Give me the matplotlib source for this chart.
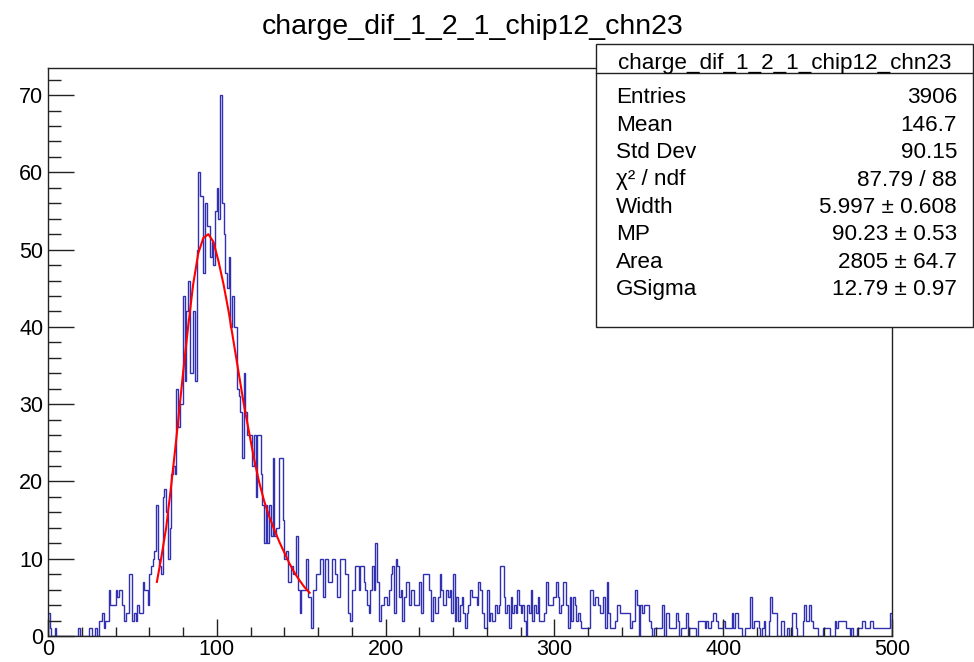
import numpy as np
import matplotlib
matplotlib.use('Agg')
import matplotlib.pyplot as plt
from matplotlib.ticker import MultipleLocator
from matplotlib.patches import Rectangle
from matplotlib.lines import Line2D

plt.rcParams['font.family'] = ['Liberation Sans', 'DejaVu Sans']

title = 'charge_dif_1_2_1_chip12_chn23'

# bin contents, 500 bins of width 1 from 0 to 500
counts = [
    3, 1, 0, 0, 1, 0, 0, 0, 0, 0,
    0, 0, 0, 0, 0, 0, 0, 0, 1, 0,
    0, 0, 0, 0, 1, 1, 0, 0, 1, 0,
    2, 2, 3, 1, 2, 2, 6, 4, 4, 4,
    6, 5, 6, 6, 4, 2, 3, 3, 8, 8,
    2, 3, 2, 4, 3, 3, 7, 6, 6, 4,
    8, 9, 10, 11, 17, 10, 9, 8, 18, 19,
    16, 10, 14, 21, 22, 21, 32, 27, 30, 30,
    44, 33, 42, 46, 34, 34, 42, 33, 50, 60,
    57, 57, 47, 56, 53, 53, 49, 51, 48, 55,
    58, 54, 70, 56, 52, 47, 45, 49, 40, 44,
    40, 40, 32, 31, 29, 23, 34, 29, 26, 26,
    26, 22, 26, 18, 26, 26, 21, 17, 12, 17,
    12, 17, 13, 23, 13, 14, 14, 23, 23, 15,
    10, 11, 7, 7, 9, 8, 8, 13, 6, 3,
    6, 6, 6, 10, 5, 5, 1, 6, 6, 8,
    8, 10, 10, 5, 10, 10, 7, 7, 10, 10,
    8, 5, 5, 10, 10, 10, 8, 8, 3, 2,
    6, 6, 9, 9, 6, 9, 9, 7, 6, 4,
    3, 6, 9, 6, 12, 7, 2, 4, 4, 5,
    5, 4, 6, 8, 9, 3, 10, 9, 5, 6,
    2, 5, 7, 7, 4, 6, 6, 4, 4, 4,
    7, 3, 8, 8, 8, 8, 6, 2, 5, 3,
    3, 5, 8, 6, 4, 4, 6, 5, 6, 3,
    8, 2, 5, 2, 4, 5, 3, 1, 3, 4,
    6, 5, 5, 5, 4, 7, 6, 3, 1, 1,
    6, 2, 3, 2, 2, 4, 3, 4, 9, 9,
    5, 3, 4, 1, 5, 3, 4, 3, 6, 4,
    3, 4, 2, 0, 4, 3, 6, 2, 4, 3,
    5, 2, 2, 2, 3, 7, 4, 4, 4, 5,
    5, 7, 5, 3, 4, 7, 7, 4, 1, 5,
    2, 5, 4, 2, 3, 2, 1, 1, 1, 1,
    1, 6, 6, 4, 5, 5, 4, 3, 3, 5,
    1, 7, 3, 1, 1, 1, 2, 4, 4, 3,
    3, 3, 3, 3, 3, 1, 2, 2, 6, 4,
    0, 4, 3, 4, 4, 4, 2, 1, 0, 1,
    1, 1, 1, 1, 4, 0, 3, 3, 1, 1,
    1, 1, 3, 2, 0, 1, 1, 1, 3, 0,
    1, 1, 1, 1, 0, 2, 2, 2, 2, 1,
    2, 1, 1, 2, 3, 3, 2, 1, 1, 1,
    2, 1, 1, 1, 1, 3, 1, 3, 3, 1,
    1, 0, 0, 1, 1, 1, 5, 1, 2, 2,
    2, 1, 0, 1, 2, 0, 0, 2, 5, 3,
    3, 3, 0, 0, 2, 2, 0, 0, 1, 0,
    0, 3, 3, 1, 0, 0, 0, 2, 4, 2,
    2, 4, 2, 1, 1, 1, 0, 0, 0, 1,
    1, 1, 1, 0, 0, 0, 2, 1, 2, 2,
    2, 2, 2, 1, 1, 0, 1, 0, 0, 1,
    1, 1, 2, 2, 1, 1, 1, 2, 2, 1,
    1, 1, 1, 1, 1, 1, 1, 1, 1, 3,
]
edges = np.arange(0, 501, 1)

# fitted curve, points
fit_x = [64.5, 67, 70, 73, 76, 80, 83, 86, 89, 92, 95, 98, 101, 104, 107, 110,
         113, 116, 119, 122, 125, 128, 131, 134, 137, 140, 143, 146, 149, 152, 155]
fit_y = [7, 10, 14, 19.5, 25.5, 34, 40, 45.5, 49.5, 51.5, 52, 51, 48.5, 45.5, 42, 38,
         34, 30, 26.5, 23, 20, 17.5, 15.5, 13.8, 12.2, 10.8, 9.4, 8.2, 7.2, 6.3, 5.6]

stats_names = ['Entries', 'Mean', 'Std Dev', 'χ² / ndf', 'Width', 'MP', 'Area', 'GSigma']
stats_values = ['3906', '146.7', '90.15', '87.79 / 88', '5.997 ± 0.608',
                '90.23 ± 0.53', '2805 ± 64.7', '12.79 ± 0.97']

W, H = 974, 662


def fx(x):
    return x / W


def fy(y):
    return 1 - y / H


fig = plt.figure(figsize=(W / 100, H / 100), dpi=100)
ax = fig.add_axes([fx(48), fy(636), fx(892) - fx(48), fy(68) - fy(636)])

ax.stairs(counts, edges, color='#3030b0', lw=1.0, baseline=0)
ax.plot(fit_x, fit_y, color='red', lw=1.5)

ax.set_xlim(0, 500)
ax.set_ylim(0, 73.5)
ax.xaxis.set_major_locator(MultipleLocator(100))
ax.xaxis.set_minor_locator(MultipleLocator(20))
ax.yaxis.set_major_locator(MultipleLocator(10))
ax.yaxis.set_minor_locator(MultipleLocator(2))
ax.tick_params(axis='both', which='both', direction='in', top=False, right=False,
               color='#222222', width=1.0, labelsize=15.5)
ax.tick_params(axis='x', which='major', length=12.2, pad=2.2)
ax.tick_params(axis='x', which='minor', length=6.5)
ax.tick_params(axis='y', which='major', length=18.7, pad=3.3)
ax.tick_params(axis='y', which='minor', length=9.4)
for s in ax.spines.values():
    s.set_color('#222222')
    s.set_linewidth(1.0)

fig.text(fx(473), fy(33.5), title, ha='center', va='baseline', fontsize=20.5)

# stats box
fig.add_artist(Rectangle((fx(596), fy(327)), fx(973) - fx(596), fy(44) - fy(327),
                         transform=fig.transFigure, facecolor='white',
                         edgecolor='#222222', lw=1.0, zorder=5))
fig.add_artist(Line2D([fx(596), fx(973)], [fy(73), fy(73)], transform=fig.transFigure,
                      color='#222222', lw=1.0, zorder=6))
fig.text(fx(785), fy(68.5), title, ha='center', va='baseline', fontsize=16.2, zorder=7)
for i, (name, val) in enumerate(zip(stats_names, stats_values)):
    yb = 103.3 + i * 27.4
    fig.text(fx(616), fy(yb), name, ha='left', va='baseline', fontsize=16.2, zorder=7)
    fig.text(fx(957), fy(yb), val, ha='right', va='baseline', fontsize=16.2, zorder=7)

fig.savefig('out.png', dpi=100)
